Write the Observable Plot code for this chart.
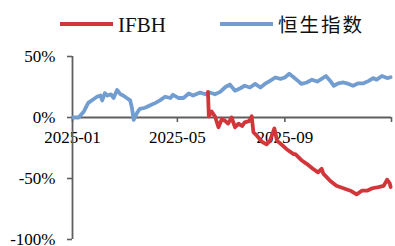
<!DOCTYPE html>
<html>
<head>
<meta charset="utf-8">
<script src="https://cdn.jsdelivr.net/npm/d3@7"></script>
<script src="https://cdn.jsdelivr.net/npm/@observablehq/plot@0.6"></script>
<style>
  html, body { margin: 0; padding: 0; background: #fff; }
  #wrap { position: relative; width: 395px; height: 246px; overflow: hidden; }
  #legend { position: absolute; left: 0; top: 0; }
  #chart { position: absolute; left: 0; top: 0; }
</style>
</head>
<body>
<div id="wrap">
  <div id="chart"></div>
  <svg id="legend" width="395" height="46" xmlns="http://www.w3.org/2000/svg"></svg>
</div>
<script>
// ---- data ----
const seriesNames = ["IFBH", "恒生指数"];
const seriesColors = ["#d3363a", "#729dd1"];

const hsDates = [
  "2025-01-02","2025-01-08","2025-01-14","2025-01-19","2025-01-25","2025-01-29",
  "2025-02-02","2025-02-04","2025-02-07","2025-02-10","2025-02-14","2025-02-17",
  "2025-02-21","2025-02-25","2025-02-28","2025-03-04","2025-03-08","2025-03-10",
  "2025-03-12","2025-03-16","2025-03-19","2025-03-25","2025-03-31","2025-04-06",
  "2025-04-11","2025-04-17","2025-04-23","2025-04-26","2025-05-02","2025-05-08",
  "2025-05-14","2025-05-19","2025-05-27","2025-06-02","2025-06-07","2025-06-13",
  "2025-06-19","2025-06-25","2025-06-30","2025-07-06","2025-07-12","2025-07-17",
  "2025-07-23","2025-07-29","2025-08-04","2025-08-09","2025-08-15","2025-08-21",
  "2025-08-27","2025-09-01","2025-09-06","2025-09-11","2025-09-16","2025-09-20",
  "2025-09-26","2025-10-02","2025-10-08","2025-10-13","2025-10-18","2025-10-23",
  "2025-10-27","2025-11-01","2025-11-07","2025-11-13","2025-11-18","2025-11-24",
  "2025-11-30","2025-12-06","2025-12-11","2025-12-15","2025-12-21","2025-12-27",
  "2025-12-31"
];
const hsValues = [
  0, 0, 5, 12, 15, 17,
  18, 14, 20, 18, 19, 16,
  22.6, 19, 18, 16, 14, 8,
  -2, 4, 7, 8, 10, 12,
  14, 17, 16, 18.6, 16, 16,
  19.7, 18, 20.5, 19, 20.5, 19,
  21, 25, 27, 22, 24, 26,
  24.6, 27.5, 24.6, 27.5, 30, 32.8,
  31.7, 32.8, 35.8, 33, 30, 27.5,
  28.7, 31, 29.5, 31.7, 34, 30,
  26, 28, 28.7, 27.5, 26, 28,
  28, 30, 32.3, 31, 34, 32.3,
  33
];

const ifbhDates = [
  "2025-06-05","2025-06-06","2025-06-09","2025-06-13","2025-06-17","2025-06-21",
  "2025-06-25","2025-06-28","2025-07-02","2025-07-06","2025-07-10","2025-07-14",
  "2025-07-17","2025-07-22","2025-07-25","2025-07-27","2025-07-31","2025-08-06",
  "2025-08-11","2025-08-15","2025-08-20","2025-08-23","2025-08-28","2025-09-03",
  "2025-09-11","2025-09-13","2025-09-20","2025-09-26","2025-10-03","2025-10-09",
  "2025-10-13","2025-10-15","2025-10-23","2025-10-30","2025-11-07","2025-11-15",
  "2025-11-22","2025-11-28","2025-12-04","2025-12-10","2025-12-17","2025-12-23",
  "2025-12-27","2025-12-30","2025-12-31"
];
const ifbhValues = [
  21, 1, 5, 1, -8, -1,
  -3, -5, 0, -8, -5, -7,
  -4, -3, 1, -12, -15, -20,
  -22, -19, -9, -19, -22, -26,
  -30, -30, -35, -38, -42, -45,
  -42, -46, -52, -56, -58, -60,
  -63, -60, -60, -58, -57, -56,
  -51, -54, -57
];

const yTicks = [50, 0, -50, -100];
const xTickDates = ["2025-01-01", "2025-05-01", "2025-09-01", "2026-01-01"];
const xTickLabels = ["2025-01", "2025-05", "2025-09", ""];

// ---- build ----
const parse = d3.utcParse("%Y-%m-%d");
const hs = hsDates.map((d, i) => ({date: parse(d), value: hsValues[i]}));
const ifbh = ifbhDates.map((d, i) => ({date: parse(d), value: ifbhValues[i]}));
const xTicks = xTickDates.map((d, i) => ({date: parse(d), label: xTickLabels[i]}));

const axisColor = "#5f5f5f";
const serif = "'Liberation Serif', 'Times New Roman', serif";

const chart = Plot.plot({
  width: 395,
  height: 246,
  marginLeft: 72,
  marginRight: 4,
  marginTop: 56,
  marginBottom: 7,
  x: {type: "utc", domain: [parse("2025-01-01"), parse("2026-01-01")], axis: null},
  y: {domain: [-100, 50], axis: null},
  style: {fontFamily: serif, fontSize: "17px", color: "#000", background: "transparent", overflow: "visible"},
  marks: [
    Plot.text(xTicks, {x: "date", y: () => 0, text: "label", dy: 20, fontSize: 17, fill: "#000", textAnchor: "middle", lineAnchor: "middle"}),
    Plot.axisY({ticks: yTicks, label: null, tickSize: 5, tickPadding: 12, tickFormat: d => d + "%", stroke: axisColor, strokeWidth: 1.6, fill: "#000", fontSize: 17}),
    Plot.ruleX([parse("2025-01-01")], {stroke: axisColor, strokeWidth: 1.8}),
    Plot.ruleY([0], {stroke: axisColor, strokeWidth: 1.8}),
    Plot.ruleX(xTicks, {x: "date", y1: () => 0, y2: () => 0, insetBottom: -5, stroke: axisColor, strokeWidth: 1.6}),
    Plot.line(hs, {x: "date", y: "value", stroke: seriesColors[1], strokeWidth: 3.8, strokeLinejoin: "round", curve: "linear"}),
    Plot.line(ifbh, {x: "date", y: "value", stroke: seriesColors[0], strokeWidth: 3.8, strokeLinejoin: "round", curve: "linear"})
  ]
});
document.getElementById("chart").appendChild(chart);

// ---- legend ----
const lg = d3.select("#legend");
const items = [
  {name: seriesNames[0], color: seriesColors[0], x0: 60, font: serif, size: 21, spacing: 0},
  {name: seriesNames[1], color: seriesColors[1], x0: 220, font: "'Noto Sans CJK SC', sans-serif", size: 19.5, spacing: 2}
];
items.forEach(it => {
  lg.append("line").attr("x1", it.x0).attr("x2", it.x0 + 53).attr("y1", 24).attr("y2", 24)
    .attr("stroke", it.color).attr("stroke-width", 4);
  lg.append("text").attr("x", it.x0 + 58).attr("y", 31.5).text(it.name)
    .attr("font-family", it.font).attr("font-size", it.size).attr("letter-spacing", it.spacing).attr("fill", "#111");
});
</script>
</body>
</html>
